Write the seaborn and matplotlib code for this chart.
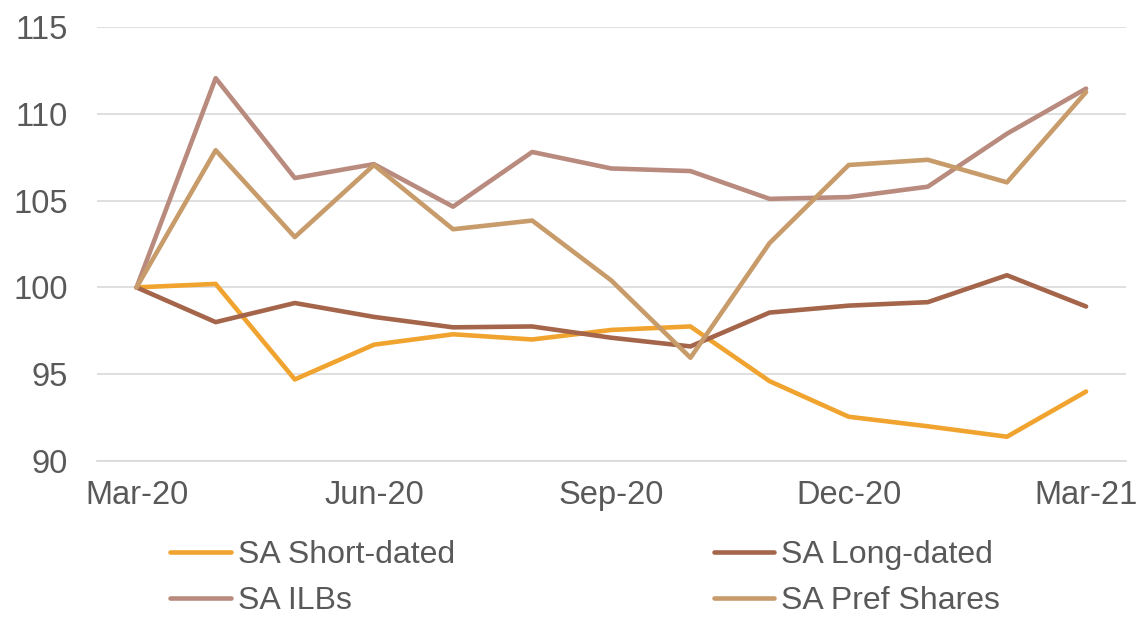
import numpy as np
import pandas as pd
import matplotlib
matplotlib.use('Agg')
import matplotlib.pyplot as plt
import seaborn as sns

months = ['Mar-20', 'Apr-20', 'May-20', 'Jun-20', 'Jul-20', 'Aug-20', 'Sep-20',
          'Oct-20', 'Nov-20', 'Dec-20', 'Jan-21', 'Feb-21', 'Mar-21']
short_dated = [100.0, 100.2, 94.7, 96.7, 97.3, 97.0, 97.55, 97.75, 94.6, 92.55, 92.0, 91.4, 94.0]
long_dated = [100.0, 98.0, 99.1, 98.3, 97.7, 97.75, 97.1, 96.6, 98.55, 98.95, 99.15, 100.7, 98.9]
ilbs = [100.0, 112.05, 106.3, 107.1, 104.65, 107.8, 106.85, 106.7, 105.1, 105.2, 105.8, 108.85, 111.45]
pref_shares = [100.0, 107.9, 102.9, 107.05, 103.35, 103.85, 100.4, 95.95, 102.55, 107.05, 107.35, 106.05, 111.25]

series = ['SA Short-dated', 'SA Long-dated', 'SA ILBs', 'SA Pref Shares']
colors = ['#F0A42F', '#A4654B', '#B98B7E', '#C79B6A']

df = pd.DataFrame({
    'x': list(range(len(months))) * 4,
    'value': short_dated + long_dated + ilbs + pref_shares,
    'series': [s for s in series for _ in months],
})

sns.set_style('white')
plt.rcParams['font.family'] = ['Liberation Sans', 'DejaVu Sans']

fig = plt.figure(figsize=(11.37, 6.17), dpi=100)
ax = fig.add_axes([0.0853, 0.2528, 0.9047, 0.7035])

sns.lineplot(data=df, x='x', y='value', hue='series', palette=dict(zip(series, colors)),
             linewidth=3.3, ax=ax, legend=False, solid_capstyle='round')

ax.set_xlim(-0.5, 12.5)
ax.set_ylim(90, 115)
ax.set_yticks([90, 95, 100, 105, 110, 115])
ax.yaxis.grid(True, color='#D9D9D9', linewidth=1.2)
ax.set_axisbelow(True)
for sp in ['top', 'right', 'left']:
    ax.spines[sp].set_visible(False)
ax.spines['bottom'].set_color('#D9D9D9')
ax.spines['bottom'].set_linewidth(1.2)

ax.set_xticks([0, 3, 6, 9, 12])
ax.set_xticklabels([months[i] for i in [0, 3, 6, 9, 12]])
ax.set_xticks([-0.5, 2.5, 5.5, 8.5, 11.5], minor=True)
ax.tick_params(axis='x', which='major', length=0, pad=14, labelsize=23.5, labelcolor='#595959')
ax.tick_params(axis='x', which='minor', length=7, width=1.2, color='#D9D9D9', direction='out')
ax.tick_params(axis='y', length=0, pad=21, labelsize=23.5, labelcolor='#595959')
ax.set_xlabel('')
ax.set_ylabel('')

# row-major order for a 2-column legend
order = [0, 2, 1, 3]
handles = [plt.Line2D([], [], color=colors[i], linewidth=3.3, solid_capstyle='round') for i in order]
labels = [series[i] for i in order]
leg = fig.legend(handles, labels, loc='upper left', bbox_to_anchor=(0.1495, 0.1245), ncol=2,
                 frameon=False, fontsize=23, handlelength=1.9, handletextpad=0.22,
                 columnspacing=8.1, labelspacing=0.5, borderpad=0, borderaxespad=0)
for t in leg.get_texts():
    t.set_color('#595959')

fig.savefig('out.png', dpi=100)
